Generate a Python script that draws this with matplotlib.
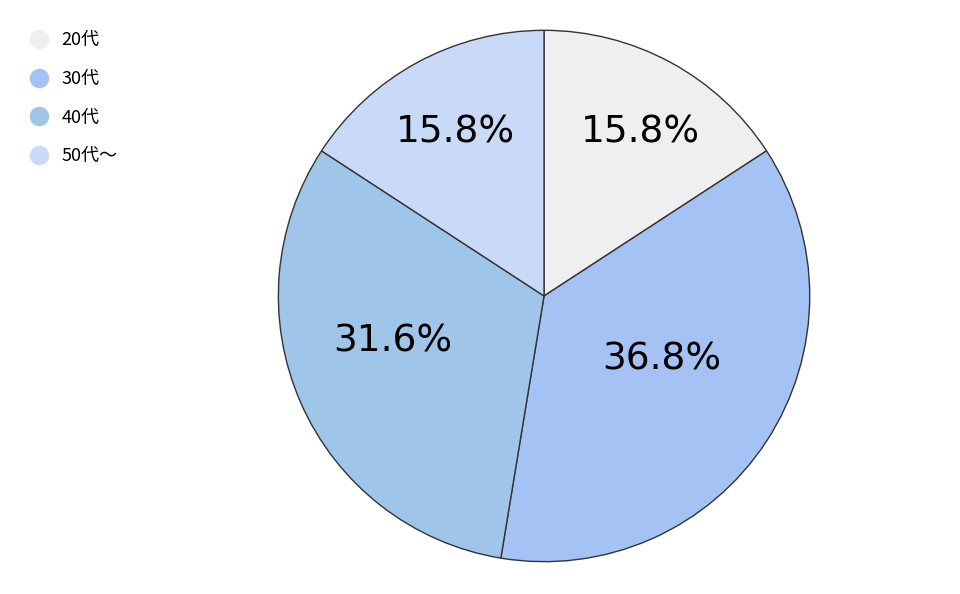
import matplotlib
matplotlib.use("Agg")
from matplotlib import pyplot as plt
from matplotlib.lines import Line2D
import numpy as np

plt.rcParams['font.family'] = ['Noto Sans CJK JP', 'DejaVu Sans']

labels = ["20代", "30代", "40代", "50代〜"]
values = [15.8, 36.8, 31.6, 15.8]
colors = ["#efefef", "#a4c2f4", "#9fc5e8", "#c9daf8"]

fig = plt.figure(figsize=(9.6, 5.94), dpi=100)
ax = fig.add_axes([0.5667 - 0.278125, 0.5017 - 0.4495, 0.55625, 0.899])

wedges, texts, autotexts = ax.pie(values, colors=colors, startangle=90, counterclock=False,
                                  autopct="%.1f%%", pctdistance=0.65,
                                  wedgeprops=dict(edgecolor="#333333", linewidth=1))
ax.set_aspect("equal")
ax.set_xlim(-1.005, 1.005)
ax.set_ylim(-1.005, 1.005)

# label spots (offset from centre, as fraction of radius), roughly like the original
spots = [(0.363, 0.614), (0.442, -0.240), (-0.569, -0.172), (-0.333, 0.614)]
for t, (x, y) in zip(autotexts, spots):
    t.set_position((x, y))
    t.set_fontsize(27)
    t.set_family(['DejaVu Sans'])
    t.set_color("black")

handles = [Line2D([0], [0], marker='o', linestyle='', markersize=13,
                  markerfacecolor=c, markeredgecolor=c) for c in colors]
fig.legend(handles, labels, loc="upper left", bbox_to_anchor=(0.014, 0.975),
           frameon=False, fontsize=13, labelspacing=1.15, handletextpad=0.75,
           handlelength=1.0)

fig.savefig("out.png", dpi=100)
